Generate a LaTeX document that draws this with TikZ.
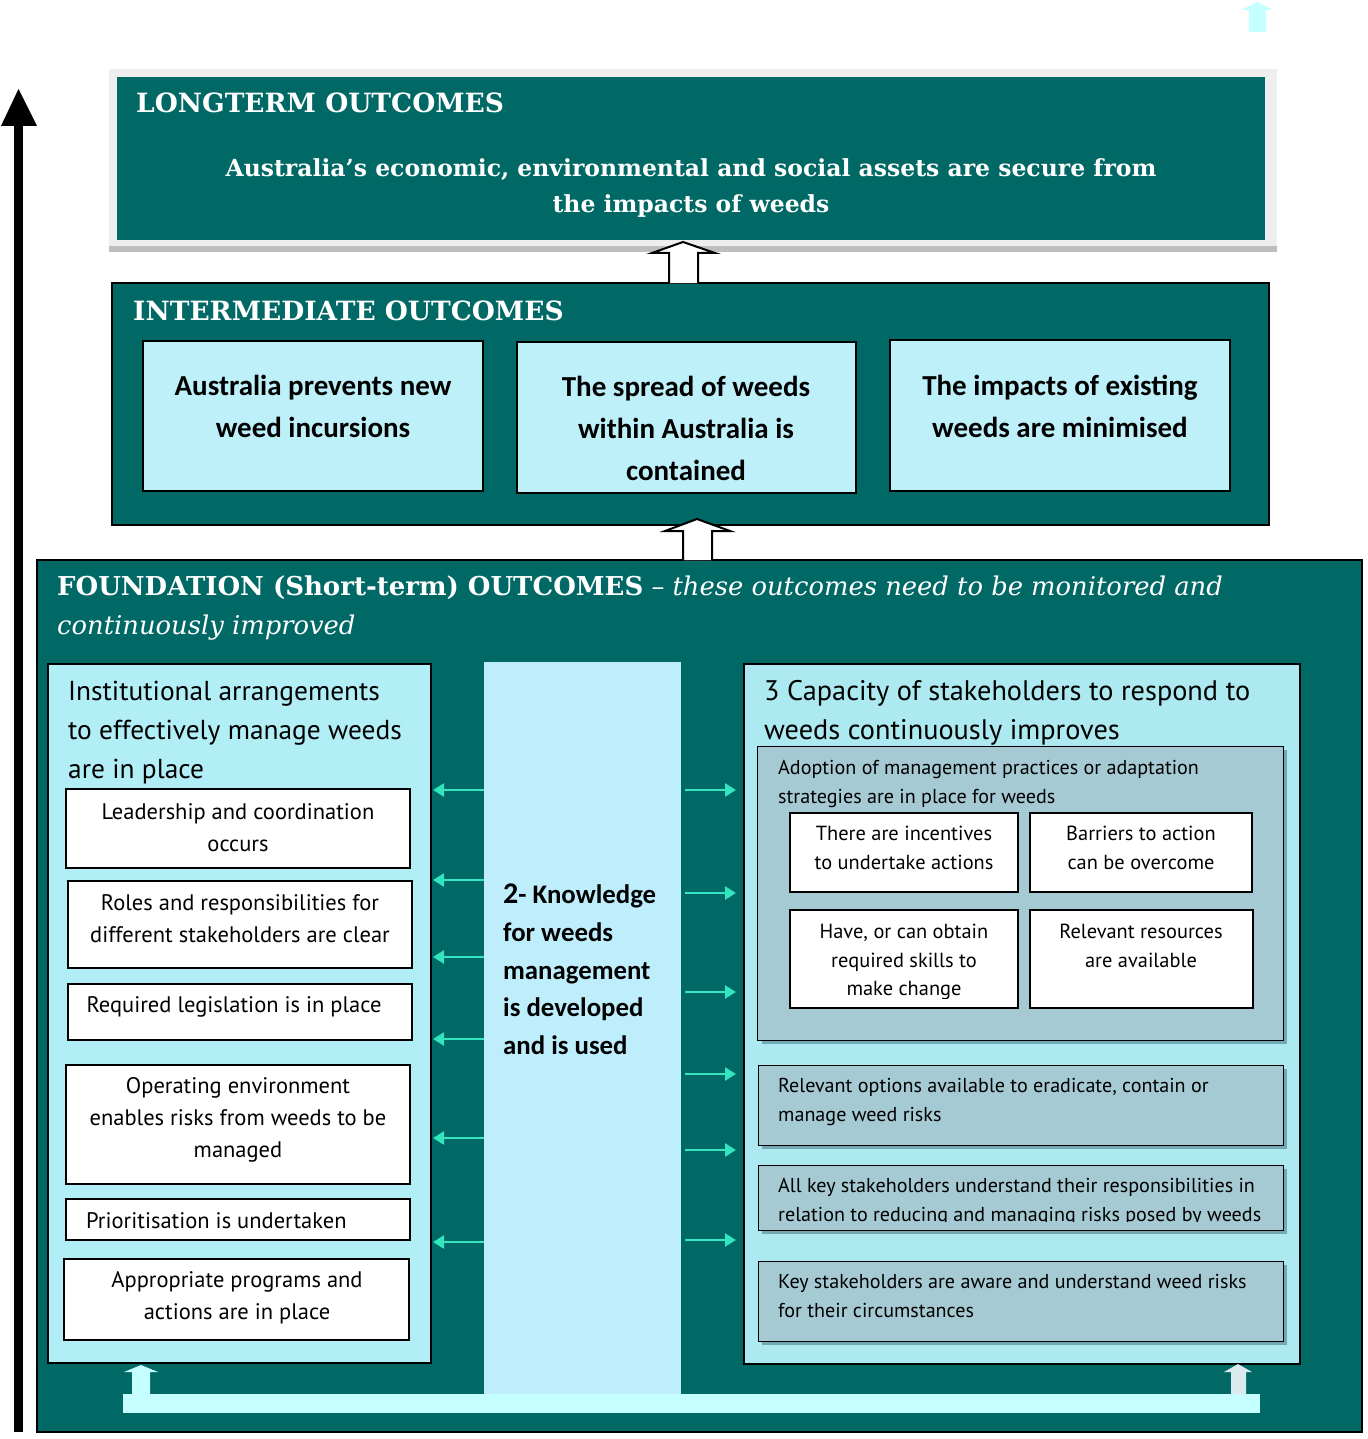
\documentclass[tikz,border=0pt]{standalone}
\usepackage{fontspec}
\setmainfont{PT Sans}
\newfontfamily\slabfont{DejaVu Serif}
\newfontfamily\calfont{Carlito}
\usetikzlibrary{fit,arrows.meta}

\definecolor{tealdark}{RGB}{0,104,101}
\definecolor{outcyan}{RGB}{190,240,250}
\definecolor{panelL}{RGB}{178,238,246}
\definecolor{panelR}{RGB}{172,233,240}
\definecolor{midblue}{RGB}{190,237,251}
\definecolor{greyblue}{RGB}{166,202,211}
\definecolor{shadowblue}{RGB}{114,169,179}
\definecolor{kgreen}{RGB}{52,228,190}
\definecolor{barcyan}{RGB}{198,255,255}
\definecolor{barpale}{RGB}{218,234,238}
\definecolor{framelight}{RGB}{238,238,238}
\definecolor{framedark}{RGB}{190,190,190}

\tikzset{
  box/.style={inner sep=0pt, outer sep=0pt, rectangle},
  tealbox/.style={box, fill=tealdark, draw=black, line width=2pt},
  outbox/.style={box, fill=outcyan, draw=black, line width=1.5pt},
  panel/.style={box, draw=black, line width=1.5pt},
  wbox/.style={box, fill=white, draw=black, line width=1.5pt},
  gbox/.style={box, fill=greyblue, draw=black, line width=1pt},
  head/.style={font=\slabfont\bfseries\fontsize{26.5}{30}\selectfont, text=white, anchor=west, inner sep=0pt},
  outtxt/.style={font=\calfont\bfseries\fontsize{29}{42}\selectfont, align=center, inner sep=0pt},
  wtxt/.style={font=\fontsize{22.5}{32}\selectfont, align=center, inner sep=0pt},
  stxt/.style={font=\fontsize{20.4}{28.5}\selectfont, align=center, inner sep=0pt},
  gtxt/.style={font=\fontsize{20.1}{29}\selectfont, align=left, anchor=north west, inner sep=0pt},
  ttl/.style={font=\fontsize{27.4}{39}\selectfont, align=left, anchor=north west, inner sep=0pt},
  kar/.style={draw=kgreen, line width=2.5pt, -{Triangle[length=11pt,width=13pt]}},
  hollow/.style={fill=white, draw=black, line width=2pt, line join=miter},
}

\begin{document}
\begin{tikzpicture}[x=1pt,y=-1pt]
\useasboundingbox (0,0) rectangle (1367,1439);
\fill[white] (0,0) rectangle (1367,1439);

% small pale arrow, top right
\fill[barcyan] (1249,32) -- (1249,10) -- (1241,10) -- (1257,2) -- (1273,10) -- (1266,10) -- (1266,32) -- cycle;

% time axis on the left
\fill[black] (14,124) rectangle (23,1432);
\fill[black] (18.5,89) -- (37,126) -- (1,126) -- cycle;

% ---------------- long-term outcomes ----------------
\fill[framelight] (109,69) rectangle (1277,252);
\fill[framedark] (109,246) rectangle (1277,252);
\node[box, fill=tealdark, fit={(117,77)(1265,240)}] (long) {};
\node[head] (longhead) at (136,103) {LONGTERM OUTCOMES};
\node[font=\slabfont\bfseries\fontsize{23.5}{36}\selectfont, text=white, align=center, inner sep=0pt]
  (longtxt) at (691,188) {Australia’s economic, environmental and social assets are secure from\\the impacts of weeds};

% ---------------- intermediate outcomes ----------------
\node[tealbox, fit={(112,283)(1269,525)}] (inter) {};
\node[head] (interhead) at (133,311) {INTERMEDIATE OUTCOMES};
\node[outbox, fit={(143,341)(483,491)}] (io1) {};
\node[outbox, fit={(517,342)(856,493)}] (io2) {};
\node[outbox, fit={(890,340)(1230,491)}] (io3) {};
\node[outtxt] (io1t) at (313,406) {Australia prevents new\\weed incursions};
\node[outtxt] (io2t) at (686,428) {The spread of weeds\\within Australia is\\contained};
\node[outtxt] (io3t) at (1060,406) {The impacts of existing\\weeds are minimised};

% hollow arrow from intermediate up to long-term
\draw[hollow] (669,283) -- (669,253) -- (652,253) -- (683,242) -- (715,253) -- (698,253) -- (698,283);

% ---------------- foundation outcomes ----------------
\node[tealbox, line width=2.5pt, fit={(37,560)(1362,1432)}] (found) {};
\draw[hollow] (683,560) -- (683,531) -- (665,531) -- (697,519) -- (730,531) -- (712,531) -- (712,560);
\node[anchor=west, inner sep=0pt, text=white, font=\slabfont\fontsize{25.8}{30}\selectfont] (foundhead) at (57,588)
  {{\bfseries\fontsize{26}{30}\selectfont FOUNDATION (Short-term) OUTCOMES} \textit{– these outcomes need to be monitored and}};
\node[anchor=west, inner sep=0pt, text=white, font=\slabfont\itshape\fontsize{25.8}{30}\selectfont] (foundhead2) at (57,628)
  {continuously improved};

% left panel: institutional arrangements
\node[panel, fill=panelL, fit={(48,664)(431,1363)}] (inst) {};
\node[ttl] (instt) at (68,681) {Institutional arrangements\\to effectively manage weeds\\are in place};
\node[wbox, fit={(66,789)(410,868)}] (lead) {};
\node[wtxt] at (238,828) {Leadership and coordination\\occurs};
\node[wbox, fit={(68,881)(412,968)}] (roles) {};
\node[wtxt] at (240,919) {Roles and responsibilities for\\different stakeholders are clear};
\node[wbox, fit={(68,984)(412,1040)}] (legis) {};
\node[wtxt] at (234,1007) {Required legislation is in place};
\node[wbox, fit={(66,1065)(410,1184)}] (operat) {};
\node[wtxt] at (238,1120) {Operating environment\\enables risks from weeds to be\\managed};
\node[wbox, fit={(66,1199)(410,1240)}] (prior) {};
\node[wtxt, anchor=west] at (86,1221) {Prioritisation is undertaken};
\node[wbox, fit={(64,1259)(409,1340)}] (progs) {};
\node[wtxt] at (237,1298) {Appropriate programs and\\actions are in place};

% middle column: knowledge
\node[box, fill=midblue, fit={(484,662)(681,1395)}] (know) {};
\node[anchor=north west, inner sep=0pt, align=left, font=\calfont\bfseries\fontsize{26.8}{37.6}\selectfont] (knowt) at (503,884)
  {{\fontsize{30}{37.6}\selectfont 2}- Knowledge\\for weeds\\management\\is developed\\and is used};

% right panel: stakeholder capacity
\node[panel, fill=panelR, fit={(744,664)(1300,1364)}] (cap) {};
\node[ttl, font=\fontsize{28.3}{39}\selectfont] (capt) at (764,680) {3 Capacity of stakeholders to respond to\\weeds continuously improves};

\fill[shadowblue] (762,750) rectangle (1287,1044);
\node[gbox, fit={(757,746)(1283,1040)}] (adopt) {};
\node[gtxt] (adoptt) at (778,760) {Adoption of management practices or adaptation\\strategies are in place for weeds};
\node[wbox, fit={(790,813)(1018,892)}] (incent) {};
\node[stxt] at (904,848) {There are incentives\\to undertake actions};
\node[wbox, fit={(1030,813)(1252,892)}] (barr) {};
\node[stxt] at (1141,848) {Barriers to action\\can be overcome};
\node[wbox, fit={(790,910)(1018,1008)}] (skills) {};
\begin{scope}
  \clip (790,910) rectangle (1018,998);
  \node[stxt] at (904,962) {Have, or can obtain\\required skills to\\make change};
\end{scope}
\node[wbox, fit={(1030,910)(1253,1008)}] (resour) {};
\node[stxt] at (1141,946) {Relevant resources\\are available};

\fill[shadowblue] (762,1069) rectangle (1287,1149);
\node[gbox, fit={(758,1065)(1283,1145)}] (opts) {};
\node[gtxt] at (778,1078) {Relevant options available to eradicate, contain or\\manage weed risks};
\fill[shadowblue] (762,1169) rectangle (1287,1234);
\node[gbox, fit={(758,1165)(1283,1230)}] (resp) {};
\begin{scope}
  \clip (758,1165) rectangle (1283,1221);
  \node[gtxt] at (778,1178) {All key stakeholders understand their responsibilities in\\relation to reducing and managing risks posed by weeds};
\end{scope}
\fill[shadowblue] (762,1265) rectangle (1287,1345);
\node[gbox, fit={(758,1261)(1283,1341)}] (aware) {};
\node[gtxt] at (778,1274) {Key stakeholders are aware and understand weed risks\\for their circumstances};

% knowledge feeds both sides
\foreach \yy in {790,880,957,1039,1138,1242}
  \draw[kar] (know.west |- 0,\yy) -- ([xshift=2pt]inst.east |- 0,\yy);
\foreach \yy in {790,893,992,1074,1150,1240}
  \draw[kar] ([xshift=4pt]know.east |- 0,\yy) -- ([xshift=-8pt]cap.west |- 0,\yy);

% feedback bar along the bottom
\fill[barcyan] (123,1394) rectangle (1260,1413);
\fill[barcyan] (132,1394) -- (132,1372) -- (124,1372) -- (141,1365) -- (158,1372) -- (150,1372) -- (150,1394) -- cycle;
\fill[barpale] (1231,1394) -- (1231,1372) -- (1224,1372) -- (1238,1364) -- (1252,1372) -- (1246,1372) -- (1246,1394) -- cycle;

\end{tikzpicture}
\end{document}
